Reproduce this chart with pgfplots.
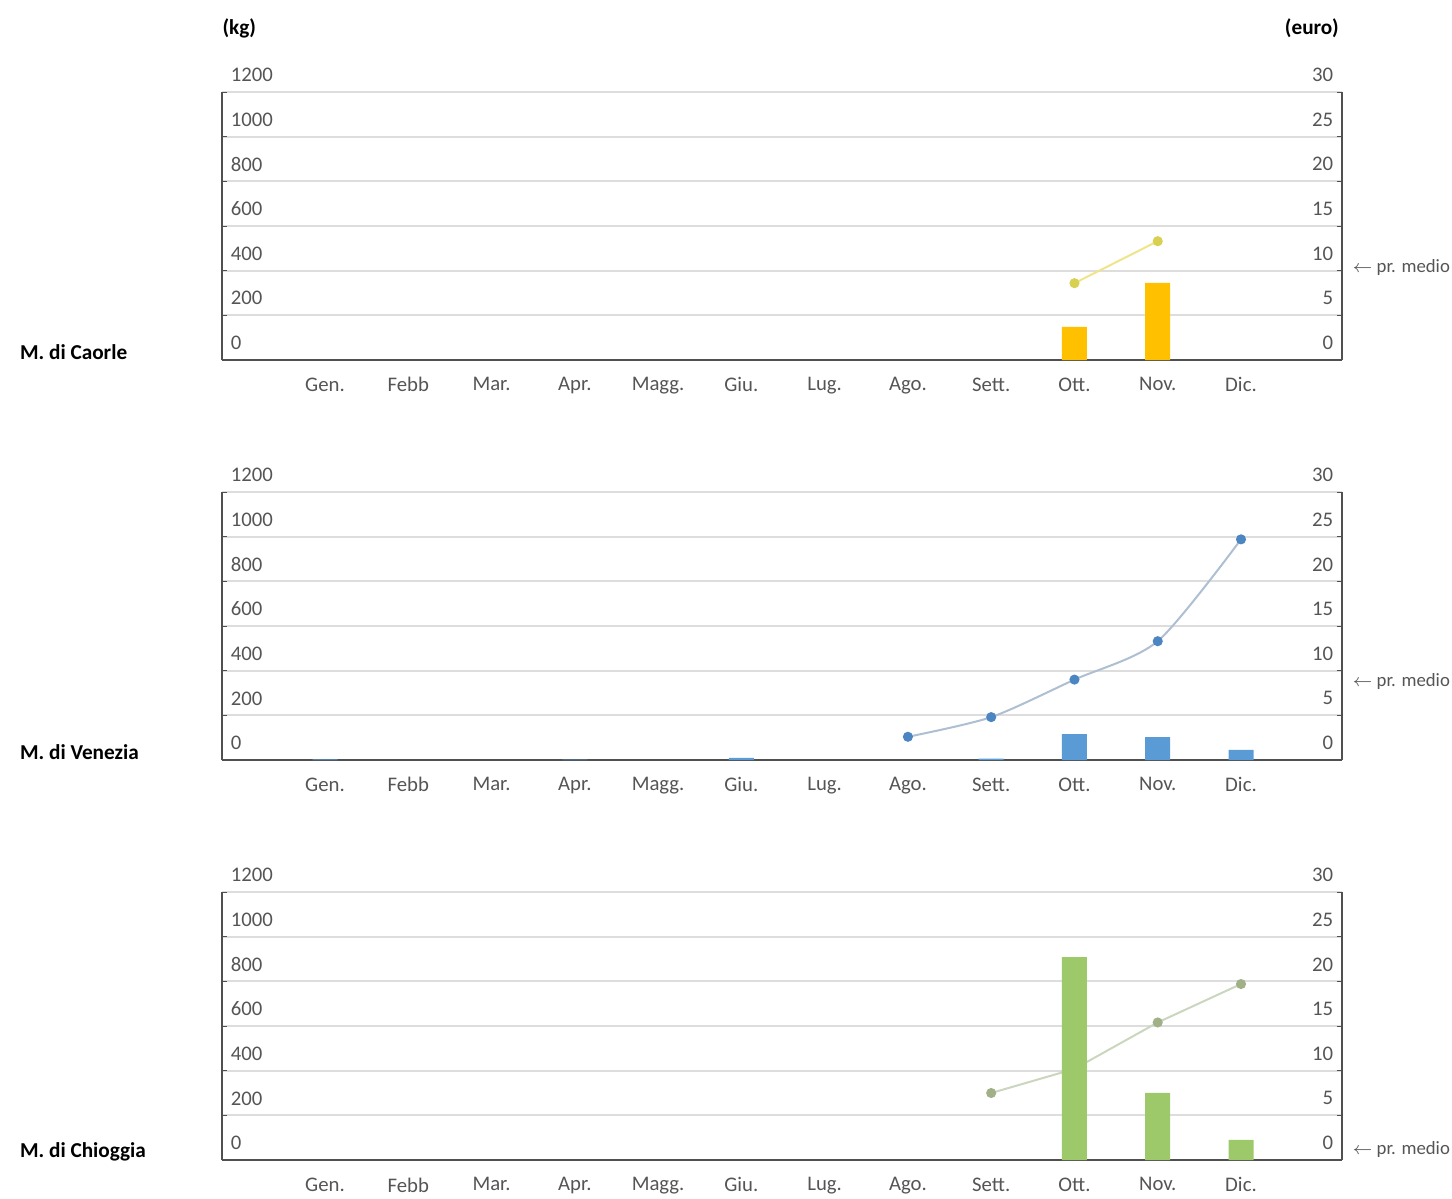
\documentclass[border=0pt]{standalone}
\usepackage{fontspec}
\setmainfont{Carlito}
\usepackage{pgfplots}
\pgfplotsset{compat=1.18}

\definecolor{tickc}{HTML}{555555}
\definecolor{axisc}{HTML}{505050}
\definecolor{gridc}{HTML}{DDDDDD}
\definecolor{barY}{HTML}{FFC000}
\definecolor{barB}{HTML}{5B9BD5}
\definecolor{barG}{HTML}{9DC96B}
\definecolor{lineY}{HTML}{F0E48A}
\definecolor{markY}{HTML}{D8D050}
\definecolor{lineB}{HTML}{AEBFD2}
\definecolor{markB}{HTML}{4C86C2}
\definecolor{lineG}{HTML}{CBD6BE}
\definecolor{markG}{HTML}{A2B088}

\pgfplotsset{
  base/.style={scale only axis, width=448pt, height=107.2pt,
    xmin=-1.237, xmax=12.213, ymin=0,
    /pgf/number format/assume math mode=true,
    /pgf/number format/1000 sep={},
    tick label style={font=\fontsize{8.3}{9}\selectfont, text=tickc},
    major tick length=2pt, tick align=inside},
  euro/.style={base, ymax=30, hide x axis, axis y line*=right,
    ytick={0,5,...,30}, ymajorgrids, grid style={draw=gridc, line width=0.7pt},
    y axis line style={draw=axisc, line width=0.7pt}, ytick style={draw=axisc},
    yticklabel style={anchor=east, xshift=0pt, yshift=6.8pt}},
  kg/.style={base, ymax=1200, axis x line*=bottom, axis y line*=left,
    ytick={0,200,...,1200},
    x axis line style={draw=axisc, line width=0.9pt},
    y axis line style={draw=axisc, line width=0.7pt}, ytick style={draw=axisc},
    yticklabel style={anchor=west, xshift=0pt, yshift=6.8pt},
    xtick={0,...,11}, xtick style={draw=none},
    xticklabels={Gen., Febb, Mar., Apr., Magg., Giu., Lug., Ago., Sett., Ott., Nov., Dic.},
    xticklabel style={yshift=-1.5pt},
    ybar, bar width=10pt},
}

\begin{document}
\begin{tikzpicture}
\path[use as bounding box] (0,0) rectangle (580.8pt,-479.2pt);

% ---------- Panel 1: Caorle ----------
\begin{axis}[euro, at={(88.8pt,-144pt)}, anchor=south west]
  \addplot[color=lineY, line width=0.8pt, mark=*, mark size=1.6pt,
    mark options={fill=markY, draw=markY}] coordinates {(9,8.6) (10,13.3)};
\end{axis}
\begin{axis}[kg, at={(88.8pt,-144pt)}, anchor=south west]
  \addplot[fill=barY, draw=none] coordinates {(9,148) (10,345)};
\end{axis}

% ---------- Panel 2: Venezia ----------
\begin{axis}[euro, at={(88.8pt,-304pt)}, anchor=south west]
  \addplot[color=lineB, line width=0.8pt, smooth, tension=0.45, mark=*, mark size=1.6pt,
    mark options={fill=markB, draw=markB}] coordinates {(7,2.6) (8,4.8) (9,9.0) (10,13.3) (11,24.7)};
\end{axis}
\begin{axis}[kg, at={(88.8pt,-304pt)}, anchor=south west]
  \addplot[fill=barB, draw=none] coordinates {(0,3) (3,2) (5,10) (8,6) (9,116) (10,103) (11,45)};
\end{axis}

% ---------- Panel 3: Chioggia ----------
\begin{axis}[euro, at={(88.8pt,-464pt)}, anchor=south west]
  \addplot[color=lineG, line width=0.8pt, mark=*, mark size=1.6pt,
    mark options={fill=markG, draw=markG}] coordinates {(8,7.5) (9,10.2) (10,15.4) (11,19.7)};
\end{axis}
\begin{axis}[kg, at={(88.8pt,-464pt)}, anchor=south west]
  \addplot[fill=barG, draw=none] coordinates {(9,908) (10,301) (11,90)};
\end{axis}

% ---------- Texts ----------
\node[anchor=west, font=\bfseries\fontsize{8.5}{10}\selectfont] at (85.5pt,-11.2pt) {(kg)};
\node[anchor=east, font=\bfseries\fontsize{8.5}{10}\selectfont] at (539pt,-11.2pt) {(euro)};

\node[anchor=west, font=\bfseries\fontsize{8.5}{10}\selectfont] at (4.5pt,-140.8pt) {M. di Caorle};
\node[anchor=west, font=\bfseries\fontsize{8.5}{10}\selectfont] at (4.5pt,-300.8pt) {M. di Venezia};
\node[anchor=west, font=\bfseries\fontsize{8.5}{10}\selectfont] at (4.5pt,-460.8pt) {M. di Chioggia};

\node[anchor=west, inner sep=0pt, text=tickc, font=\fontsize{7.5}{9}\selectfont] at (540.8pt,-106.8pt) {$\leftarrow$ pr. medio};
\node[anchor=west, inner sep=0pt, text=tickc, font=\fontsize{7.5}{9}\selectfont] at (540.8pt,-272.4pt) {$\leftarrow$ pr. medio};
\node[anchor=west, inner sep=0pt, text=tickc, font=\fontsize{7.5}{9}\selectfont] at (540.8pt,-459.6pt) {$\leftarrow$ pr. medio};
\end{tikzpicture}
\end{document}
